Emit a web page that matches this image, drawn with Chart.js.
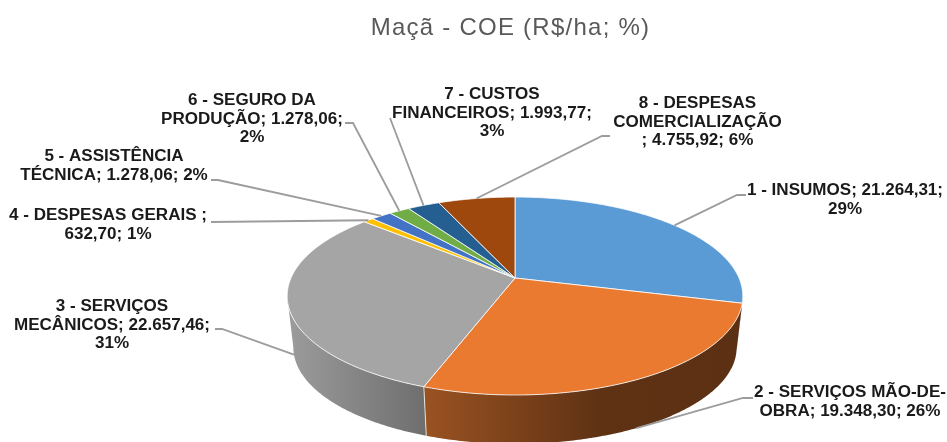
<!DOCTYPE html>
<html lang="pt">
<head>
<meta charset="utf-8">
<title>Maçã - COE</title>
<script src="https://cdn.jsdelivr.net/npm/chart.js@4/dist/chart.umd.min.js"></script>
<style>html,body{margin:0;padding:0;background:#fff}canvas{display:block}</style>
</head>
<body>
<canvas id="c" width="947" height="442"></canvas>
<script>
const chartTitle = 'Maçã - COE (R$/ha; %)';
const categories = ['1 - INSUMOS','2 - SERVIÇOS MÃO-DE-OBRA','3 - SERVIÇOS MECÂNICOS','4 - DESPESAS GERAIS','5 - ASSISTÊNCIA TÉCNICA','6 - SEGURO DA PRODUÇÃO','7 - CUSTOS FINANCEIROS','8 - DESPESAS COMERCIALIZAÇÃO'];
const values = [21264.31,19348.30,22657.46,632.70,1278.06,1278.06,1993.77,4755.92];
const colors = ['#5B9BD5','#E97A2F','#A5A5A5','#FFC000','#4472C4','#70AD47','#255E91','#9E480E'];
const labelLines = [
  ['1 - INSUMOS; 21.264,31;','29%'],
  ['2 - SERVIÇOS MÃO-DE-','OBRA; 19.348,30; 26%'],
  ['3 - SERVIÇOS','MECÂNICOS; 22.657,46;','31%'],
  ['4 - DESPESAS GERAIS ;','632,70; 1%'],
  ['5 - ASSISTÊNCIA','TÉCNICA; 1.278,06; 2%'],
  ['6 - SEGURO DA','PRODUÇÃO; 1.278,06;','2%'],
  ['7 - CUSTOS','FINANCEIROS; 1.993,77;','3%'],
  ['8 - DESPESAS','COMERCIALIZAÇÃO','; 4.755,92; 6%']
];
// label layout: centre x, first line middle y
const labelPos = [[845,191],[850,393],[112,307],[108,216],[114,157],[252,101],[492,95],[697.5,104]];
// leader elbows (text side first)
const leaderElbows = [
  [[746,195],[737,195]],
  [[753,398],[743,398]],
  [[215,329],[222,329]],
  [[211,222]],
  [[211,180],[218,180]],
  [[345,123],[353,123]],
  [[390,118]],
  [[610,136],[602,136]]
];
const PROJ = {cx:515, cy:278, A:224, B:95.7, k:0.182, drop:52, shrink:0.973, wallFrom:100.5, wallTo:259.5};
const TEXT = {size:16, stretch:1.065, lineHeight:18.5};

function project(theta, lower){
  // theta: radians clockwise from the top of the pie
  const u=Math.sin(theta), v=Math.cos(theta), w=1+PROJ.k*v;
  const f=lower?PROJ.shrink:1;
  return [PROJ.cx+f*PROJ.A*u/w, PROJ.cy+(lower?PROJ.drop:0)-f*PROJ.B*v/w];
}
const fromTop = a => a+Math.PI/2;   // chart.js angle -> clockwise from top

const pie3d = {
  id:'pie3d',
  beforeDraw(chart){ chart.ctx.letterSpacing='1.25px'; },
  beforeDatasetDraw(chart){
    const ctx=chart.ctx, arcs=chart.getDatasetMeta(0).data;
    ctx.letterSpacing='0px';
    const lo=PROJ.wallFrom*Math.PI/180, hi=PROJ.wallTo*Math.PI/180;
    // side walls
    arcs.forEach((el,i)=>{
      const s=Math.max(fromTop(el.startAngle),lo), e=Math.min(fromTop(el.endAngle),hi);
      if(e<=s) return;
      const n=Math.ceil((e-s)/0.01);
      const ps=[],pl=[];
      for(let j=0;j<=n;j++){const t=s+(e-s)*j/n;ps.push(project(t,false));pl.push(project(t,true));}
      const xs=ps.concat(pl).map(p=>p[0]);
      const x0=Math.min(...xs),x1=Math.max(...xs);
      const g=ctx.createLinearGradient(x0,0,x1,0);
      if(i===1){g.addColorStop(0,'#9A5322');g.addColorStop(0.55,'#5F3214');g.addColorStop(1,'#5C3013');}
      else{g.addColorStop(0,'#9C9C9C');g.addColorStop(1,'#6E6E6E');}
      ctx.beginPath();
      ps.forEach((p,j)=>j?ctx.lineTo(p[0],p[1]):ctx.moveTo(p[0],p[1]));
      pl.reverse().forEach(p=>ctx.lineTo(p[0],p[1]));
      ctx.closePath();ctx.fillStyle=g;ctx.fill();
    });
    // seam between walls
    const seam=fromTop(arcs[1].endAngle);
    const a=project(seam,false),b=project(seam,true);
    ctx.beginPath();ctx.moveTo(a[0],a[1]);ctx.lineTo(b[0],b[1]);
    ctx.strokeStyle='rgba(255,255,255,.75)';ctx.lineWidth=1;ctx.stroke();
    // top faces
    arcs.forEach(el=>{
      const s=fromTop(el.startAngle), e=fromTop(el.endAngle);
      const n=Math.max(2,Math.ceil((e-s)/0.01));
      ctx.beginPath();ctx.moveTo(PROJ.cx,PROJ.cy);
      for(let j=0;j<=n;j++){const p=project(s+(e-s)*j/n,false);ctx.lineTo(p[0],p[1]);}
      ctx.closePath();
      ctx.fillStyle=el.options.backgroundColor;ctx.fill();
      ctx.strokeStyle='rgba(255,255,255,.8)';ctx.lineWidth=1;ctx.stroke();
    });
    return false;
  },
  afterDraw(chart){
    const ctx=chart.ctx, arcs=chart.getDatasetMeta(0).data;
    const lo=PROJ.wallFrom*Math.PI/180, hi=PROJ.wallTo*Math.PI/180;
    arcs.forEach((el,i)=>{
      const mid=(fromTop(el.startAngle)+fromTop(el.endAngle))/2;
      const end=project(mid, mid>lo&&mid<hi);
      ctx.beginPath();
      leaderElbows[i].forEach((p,j)=>j?ctx.lineTo(p[0],p[1]):ctx.moveTo(p[0],p[1]));
      ctx.lineTo(end[0],end[1]);
      ctx.strokeStyle='#9C9C9C';ctx.lineWidth=1.8;ctx.stroke();
    });
    ctx.fillStyle='#1A1A1A';
    ctx.font='bold '+TEXT.size+'px "Liberation Sans", Arial, sans-serif';
    ctx.textAlign='center';ctx.textBaseline='middle';
    labelLines.forEach((lines,i)=>{
      lines.forEach((t,j)=>{
        ctx.save();
        ctx.translate(labelPos[i][0],labelPos[i][1]+j*TEXT.lineHeight);
        ctx.scale(TEXT.stretch,1);
        ctx.fillText(t,0,0);
        ctx.restore();
      });
    });
  }
};

new Chart(document.getElementById('c'),{
  type:'pie',
  data:{labels:categories,datasets:[{data:values,backgroundColor:colors,borderWidth:0}]},
  options:{
    responsive:false,animation:false,
    layout:{padding:{left:74,right:0,top:0,bottom:0}},
    plugins:{
      legend:{display:false},tooltip:{enabled:false},
      title:{display:true,text:chartTitle,fullSize:false,color:'#595959',
        font:{family:'"Liberation Sans", Arial, sans-serif',size:24,weight:'normal'},
        padding:{top:14,bottom:12}}
    }
  },
  plugins:[pie3d]
});
</script>
</body>
</html>
